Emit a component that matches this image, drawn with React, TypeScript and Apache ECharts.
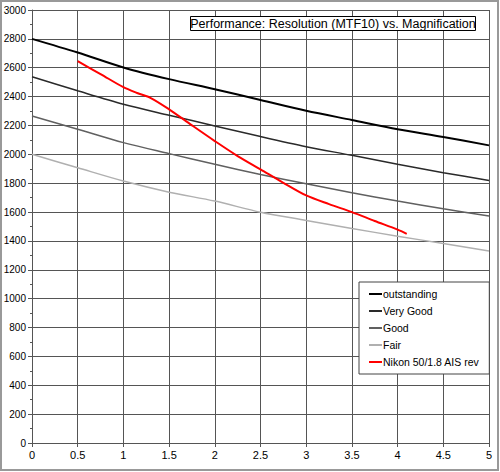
import React, { useEffect, useRef } from "react";
import * as echarts from "echarts";

const titleText = "Performance: Resolution (MTF10) vs. Magnification";
const seriesNames = ["outstanding", "Very Good", "Good", "Fair", "Nikon 50/1.8 AIS rev"];

const magStd = [0, 0.5, 1, 1.5, 2, 2.5, 3, 3.5, 4, 4.5, 5];
const outstanding = [2800, 2705, 2602, 2521, 2451, 2377, 2302, 2238, 2174, 2120, 2062];
const veryGood = [2537, 2440, 2347, 2271, 2197, 2123, 2053, 1993, 1931, 1873, 1819];
const good = [2266, 2174, 2081, 2005, 1931, 1861, 1796, 1734, 1676, 1623, 1572];
const fair = [2000, 1907, 1815, 1738, 1676, 1599, 1542, 1486, 1433, 1382, 1331];

const magNikon = [0.5, 0.75, 1, 1.15, 1.3, 1.5, 1.75, 2, 2.25, 2.5, 2.75, 3, 3.25, 3.5, 3.75, 4, 4.1];
const nikon = [2645, 2556, 2465, 2425, 2390, 2312, 2201, 2092, 1988, 1896, 1803, 1715, 1655, 1600, 1538, 1478, 1449];

const colors = ["#000000", "#2a2a2a", "#606060", "#b0b0b0", "#ff0000"];
const widths = [2, 1.5, 1.5, 1.5, 2];

function pair(xs: number[], ys: number[]) {
  return xs.map((x, i) => [x, ys[i]]);
}

export default function App() {
  const ref = useRef<HTMLDivElement>(null);
  useEffect(() => {
    if (!ref.current) return;
    const chart = echarts.init(ref.current, undefined, { renderer: "svg" });
    const datasets = [
      pair(magStd, outstanding),
      pair(magStd, veryGood),
      pair(magStd, good),
      pair(magStd, fair),
      pair(magNikon, nikon),
    ];
    const font = "Arial, 'Liberation Sans', sans-serif";
    chart.setOption({
      animation: false,
      backgroundColor: "#ffffff",
      textStyle: { fontFamily: font },
      grid: { left: 32, right: 11, top: 10, bottom: 29, containLabel: false },
      xAxis: {
        type: "value",
        min: 0,
        max: 5,
        interval: 0.5,
        axisLine: { show: true, lineStyle: { color: "#555", width: 1 } },
        axisTick: { show: true, length: 4, lineStyle: { color: "#555" } },
        axisLabel: { color: "#000", fontSize: 11, fontFamily: font, margin: 6, formatter: (v: number) => String(v) },
        splitLine: { show: true, lineStyle: { color: "#555", width: 1 } },
      },
      yAxis: {
        type: "value",
        min: 0,
        max: 3000,
        interval: 200,
        axisLine: { show: true, lineStyle: { color: "#555", width: 1 } },
        axisTick: { show: true, length: 4, lineStyle: { color: "#555" } },
        minorTick: { show: true, splitNumber: 2, length: 2, lineStyle: { color: "#555" } },
        axisLabel: { color: "#000", fontSize: 10, fontFamily: font, margin: 6, formatter: (v: number) => String(v) },
        splitLine: { show: true, lineStyle: { color: "#555", width: 1 } },
      },
      legend: {
        orient: "vertical",
        left: 359,
        top: 282,
        data: seriesNames,
        icon: "rect",
        itemWidth: 13,
        itemHeight: 2,
        itemGap: 5,
        padding: [6, 10, 6, 10],
        borderColor: "#444",
        borderWidth: 1,
        backgroundColor: "#fff",
        textStyle: { color: "#000", fontSize: 10.5, fontFamily: font, padding: [0, 0, 0, -4], height: 12, lineHeight: 12 },
      },
      graphic: [
        {
          type: "rect",
          shape: { x: 1, y: 1, width: 497, height: 469 },
          style: { fill: "none", stroke: "#999", lineWidth: 2 },
          silent: true,
        },
        {
          type: "rect",
          shape: { x: 190.5, y: 16.5, width: 285, height: 14 },
          style: { fill: "#fff", stroke: "#000", lineWidth: 1 },
          z: 10,
        },
        {
          type: "text",
          x: 333,
          y: 23.5,
          style: {
            text: titleText,
            fill: "#000",
            font: `12.5px ${font}`,
            textAlign: "center",
            textVerticalAlign: "middle",
          },
          z: 11,
        },
      ],
      series: datasets.map((d, i) => ({
        name: seriesNames[i],
        type: "line",
        data: d,
        smooth: 0.3,
        showSymbol: false,
        symbol: "none",
        lineStyle: { color: colors[i], width: widths[i] },
        itemStyle: { color: colors[i] },
        z: i === 4 ? 5 : 3,
      })),
    });
    return () => chart.dispose();
  }, []);
  return (
    <div
      ref={ref}
      style={{ position: "fixed", left: 0, top: 0, width: 500, height: 472 }}
    />
  );
}
